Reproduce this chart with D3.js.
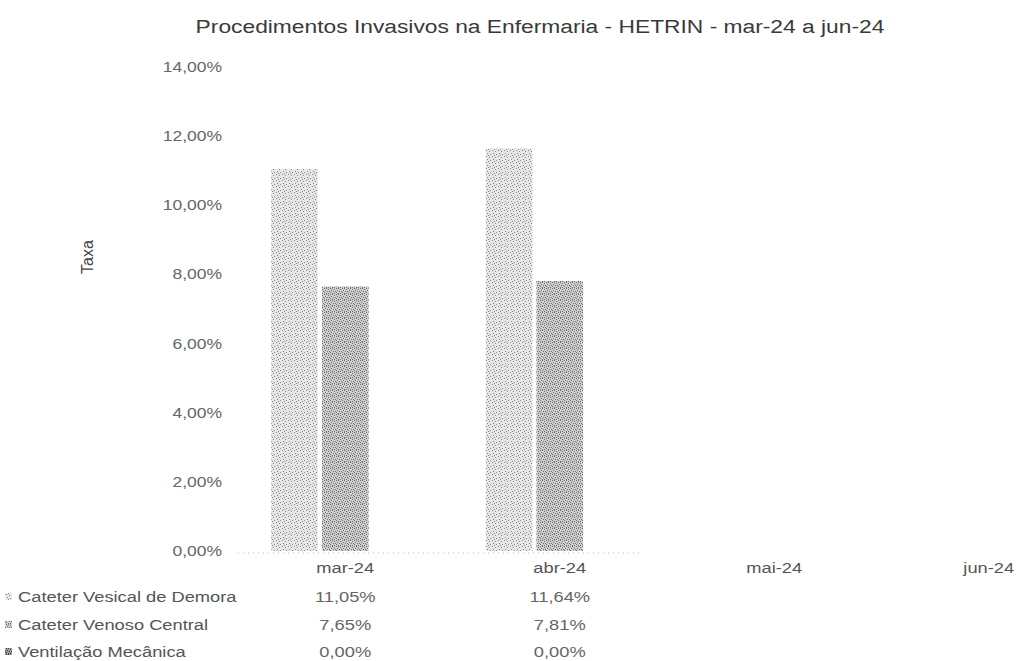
<!DOCTYPE html>
<html><head><meta charset="utf-8">
<script src="https://cdn.jsdelivr.net/npm/d3@7"></script>
<style>html,body{margin:0;padding:0;background:#fff;overflow:hidden}</style>
</head><body>
<script>
const categories = ["mar-24","abr-24","mai-24","jun-24"];
const seriesNames = ["Cateter Vesical de Demora","Cateter Venoso Central","Ventilação Mecânica"];
const cvd = [11.05, 11.64, null, null];
const cvc = [7.65, 7.81, null, null];
const vm  = [0.00, 0.00, null, null];
const yTicks = [0,2,4,6,8,10,12,14];
const seriesValues = [cvd, cvc, vm];

const W = 1018, H = 661;
const FONT = "'Liberation Sans', Arial, sans-serif";
const svg = d3.select("body").append("svg").attr("width", W).attr("height", H)
  .style("font-family", FONT);

const defs = svg.append("defs");
function stipple(id, bg, dot, density){
  const p = defs.append("pattern").attr("id", id).attr("patternUnits","userSpaceOnUse")
    .attr("width", 6).attr("height", 6);
  p.append("rect").attr("width",6).attr("height",6).attr("fill",bg);
  const pts = density === "light" ? [[0,0],[3,1],[1,3],[4,4],[2,5]] :
     [[0,0],[2,0],[4,1],[1,2],[3,3],[5,3],[0,4],[2,5],[4,5]];
  pts.forEach(([x,y]) => p.append("rect").attr("x",x).attr("y",y).attr("width",1).attr("height",1).attr("fill",dot));
}
stipple("p0", "#e6e6e6", "#8a8a8a", "light");
stipple("p1", "#cfcfcf", "#6e6e6e", "dense");
stipple("p2", "#9a9a9a", "#404040", "dense");
const fills = ["url(#p0)","url(#p1)","url(#p2)"];

const y = d3.scaleLinear().domain([0,14]).range([551, 67]);
const x = d3.scaleBand().domain(categories).range([238, 1096]).paddingInner(0.31).paddingOuter(0.155);
const xs = d3.scaleBand().domain(d3.range(3)).range([0, x.bandwidth()]).paddingInner(0.08);

// stretched text helper (the reference is horizontally stretched)
function stext(px, py, str, size, fill, anchor, sx){
  return svg.append("g").attr("transform", `translate(${px},${py}) scale(${sx},1)`)
    .append("text").attr("text-anchor", anchor).attr("font-size", size)
    .attr("fill", fill).text(str);
}

// title
stext(540, 33, "Procedimentos Invasivos na Enfermaria - HETRIN - mar-24 a jun-24", 19, "#3a3a3a", "middle", 1.2);

// y axis
const fmt = v => d3.format(".2f")(v).replace(".", ",") + "%";
const yAxis = d3.axisLeft(y).tickValues(yTicks).tickSize(0).tickPadding(0).tickFormat(fmt);
const ga = svg.append("g").attr("transform","translate(222,0)").call(yAxis);
ga.select(".domain").remove();
ga.selectAll("text").attr("font-size", 14).attr("fill","#666").attr("font-family", FONT)
  .attr("transform","scale(1.25,1)");

svg.append("text").attr("transform","translate(93,257) rotate(-90)").attr("text-anchor","middle")
  .attr("font-size", 16).attr("fill","#444").text("Taxa");

// bars
categories.forEach((c, i) => {
  seriesValues.forEach((vals, s) => {
    const v = vals[i];
    if (v == null || v === 0) return;
    svg.append("rect")
      .attr("x", x(c) + xs(s)).attr("width", xs.bandwidth())
      .attr("y", y(v)).attr("height", y(0) - y(v))
      .attr("fill", fills[s]);
  });
});

// faint dotted baseline
svg.append("line").attr("x1", 238).attr("x2", 640).attr("y1", 553).attr("y2", 553)
  .attr("stroke","#bbb").attr("stroke-width",1).attr("stroke-dasharray","1,4");

// data table
const rowY = [573, 602, 630, 657];
categories.forEach(c => {
  stext(x(c) + x.bandwidth()/2, rowY[0], c, 15, "#555", "middle", 1.22);
});
seriesNames.forEach((n, s) => {
  const yy = rowY[s+1];
  svg.append("rect").attr("x", 5).attr("y", yy - 9).attr("width", 7).attr("height", 7).attr("fill", fills[s]);
  stext(18, yy, n, 15, "#555", "start", 1.22);
  categories.forEach((c, i) => {
    const v = seriesValues[s][i];
    if (v == null) return;
    stext(x(c) + x.bandwidth()/2, yy, fmt(v), 15, "#666", "middle", 1.22);
  });
});
</script>
</body></html>
